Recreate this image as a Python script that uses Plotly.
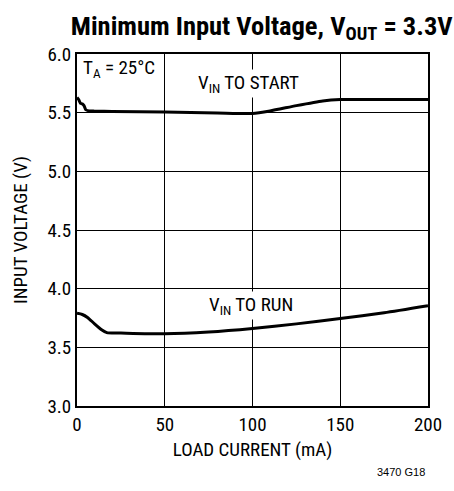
import plotly.graph_objects as go

start_x = [0, 1, 2, 3, 4, 5, 7, 10, 20, 50, 80, 100, 110, 125, 140, 150, 175, 200]
start_y = [5.63, 5.61, 5.58, 5.575, 5.56, 5.525, 5.515, 5.513, 5.51, 5.505, 5.497, 5.493, 5.515, 5.56, 5.60, 5.612, 5.612, 5.612]

run_x = [0, 3, 6, 10, 14, 17, 25, 50, 75, 100, 125, 150, 175, 200]
run_y = [3.79, 3.78, 3.755, 3.70, 3.65, 3.625, 3.622, 3.615, 3.63, 3.66, 3.70, 3.745, 3.795, 3.855]

x_ticks = [0, 50, 100, 150, 200]
y_ticks = [3.0, 3.5, 4.0, 4.5, 5.0, 5.5, 6.0]

FONT = "Roboto Condensed, Liberation Sans Narrow, Arial Narrow, sans-serif"
FS = 19

fig = go.Figure()
fig.add_trace(go.Scatter(x=start_x, y=start_y, mode="lines", line=dict(color="black", width=3, shape="spline", smoothing=0.6), hoverinfo="skip"))
fig.add_trace(go.Scatter(x=run_x, y=run_y, mode="lines", line=dict(color="black", width=3, shape="spline", smoothing=0.6), hoverinfo="skip"))

fig.update_layout(
    width=454, height=491,
    margin=dict(l=77, r=26, t=54, b=85),
    paper_bgcolor="white", plot_bgcolor="white",
    showlegend=False,
    font=dict(family=FONT, color="black", size=FS),
    title=dict(text="<b>Minimum Input Voltage, V<sub>OUT</sub> = 3.3V</b>", x=0.997, xanchor="right", y=0.948, yanchor="middle",
               font=dict(family=FONT, size=26.5, color="black")),
)
fig.update_xaxes(range=[0, 200], tickvals=x_ticks, ticktext=[str(v) for v in x_ticks],
                 showgrid=True, gridcolor="black", gridwidth=1, zeroline=False,
                 showline=True, linecolor="black", linewidth=2, mirror=True, ticks="",
                 tickfont=dict(size=FS), title=dict(text="LOAD CURRENT (mA)", font=dict(size=FS), standoff=8))
fig.update_yaxes(range=[3.0, 6.0], tickvals=y_ticks, ticktext=[f"{v:.1f}" for v in y_ticks],
                 showgrid=True, gridcolor="black", gridwidth=1, zeroline=False,
                 showline=True, linecolor="black", linewidth=2, mirror=True, ticks="",
                 tickfont=dict(size=FS), title=dict(text="INPUT VOLTAGE (V)", font=dict(size=FS), standoff=15))

fig.add_annotation(x=2, y=5.88, xref="x", yref="y", text="T<sub>A</sub> = 25°C", showarrow=False, xanchor="left",
                   font=dict(size=FS), bgcolor="white")
fig.add_annotation(x=98, y=5.745, xref="x", yref="y", text="V<sub>IN</sub> TO START", showarrow=False,
                   font=dict(size=FS), bgcolor="white")
fig.add_annotation(x=99, y=3.86, xref="x", yref="y", text="V<sub>IN</sub> TO RUN", showarrow=False,
                   font=dict(size=FS), bgcolor="white")
fig.add_annotation(x=0.997, y=-0.21, xref="paper", yref="paper", text="3470 G18", showarrow=False, xanchor="right",
                   font=dict(family="Liberation Sans, Arial, sans-serif", size=11))

fig.write_html("out.html", config={"displayModeBar": False}, post_script="document.body.style.margin='0';")
